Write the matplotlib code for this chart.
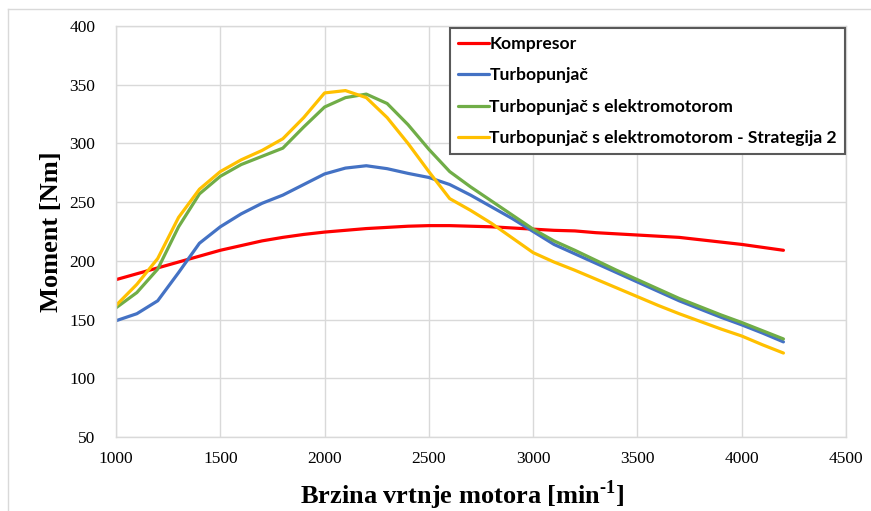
import matplotlib.pyplot as plt
from matplotlib.lines import Line2D
import numpy as np

# engine speed [min^-1]
rpm = np.arange(1000, 4201, 100)

kompresor = [184, 189, 194, 199, 204, 209, 213, 217, 220, 222.5, 224.5, 226, 227.5,
             228.5, 229.5, 230, 230, 229.5, 229, 228, 227, 226, 225.5, 224, 223, 222,
             221, 220, 218, 216, 214, 211.5, 209]
turbo = [149, 155, 166, 190, 215, 229, 240, 249, 256, 265, 274, 279, 281, 278.5, 274.5,
         271, 265, 256, 246, 236, 225, 214, 206, 198, 190, 182, 174, 166, 159, 152,
         145.5, 138.5, 131]
turbo_em = [160, 173, 193, 229, 257, 272, 282, 289, 296, 314, 331, 339, 342, 334, 316,
            295, 276, 263, 251, 239, 227, 217, 209, 200.5, 192, 184, 176, 168, 161, 154,
            147.5, 140.5, 133.5]
turbo_em_s2 = [162, 180, 202, 237, 261, 276, 286, 294, 304, 322, 343, 345, 339, 322, 300,
               276, 253, 243, 232, 219.5, 207, 199, 192, 184.5, 177, 169.5, 162, 155,
               148.5, 142, 136, 128.5, 121.5]

labels = ['Kompresor', 'Turbopunjač', 'Turbopunjač s elektromotorom',
          'Turbopunjač s elektromotorom - Strategija 2']
colors = ['#FF0000', '#4472C4', '#70AD47', '#FFC000']

plt.rcParams['font.family'] = 'Liberation Serif'
plt.rcParams['mathtext.fontset'] = 'custom'
plt.rcParams['mathtext.rm'] = 'Liberation Serif'
plt.rcParams['mathtext.bf'] = 'Liberation Serif:bold'

fig = plt.figure(figsize=(8.71, 5.11), dpi=100)
ax = fig.add_axes([116 / 871, 1 - 437 / 511, 730 / 871, 411 / 511])

for y, lab, c in zip([kompresor, turbo, turbo_em, turbo_em_s2], labels, colors):
    ax.plot(rpm, y, color=c, lw=2.3, label=lab, solid_capstyle='round',
            solid_joinstyle='round')

ax.set_xlim(1000, 4500)
ax.set_ylim(50, 400)
ax.set_xticks(np.arange(1000, 4501, 500))
ax.set_yticks(np.arange(50, 401, 50))
ax.grid(True, color='#D9D9D9', lw=1)
ax.set_axisbelow(True)
for s in ax.spines.values():
    s.set_color('#D9D9D9')
    s.set_linewidth(1)
ax.tick_params(length=0, labelsize=12.5, colors='black')
ax.tick_params(axis='x', pad=10)
ax.tick_params(axis='y', pad=15)

ax.set_xlabel('Brzina vrtnje motora [min$^{\\mathbf{\u2010 1}}$]', fontsize=19,
              fontweight='bold')
ax.xaxis.set_label_coords((462 - 116) / 730, (437 - 478) / 411)
ax.set_ylabel('Moment [Nm]', fontsize=19, fontweight='bold')
ax.yaxis.set_label_coords((63 - 116) / 730, 0.5)

leg = ax.legend(loc='upper left', bbox_to_anchor=(450 / 871, 1 - 28 / 511),
                bbox_transform=fig.transFigure, fancybox=False, framealpha=1,
                edgecolor='#595959', handlelength=1.8, handletextpad=0.0,
                labelspacing=0.88, borderpad=0.45, borderaxespad=0,
                prop={'family': 'Lato', 'weight': 'bold', 'size': 12.6})
leg.get_frame().set_linewidth(1.5)

# chart border on the top and left edges
fig.add_artist(Line2D([8 / 871, 1], [1 - 9 / 511, 1 - 9 / 511], color='#D9D9D9', lw=1))
fig.add_artist(Line2D([8 / 871, 8 / 871], [0, 1 - 9 / 511], color='#D9D9D9', lw=1))

fig.savefig('out.png', dpi=100)
